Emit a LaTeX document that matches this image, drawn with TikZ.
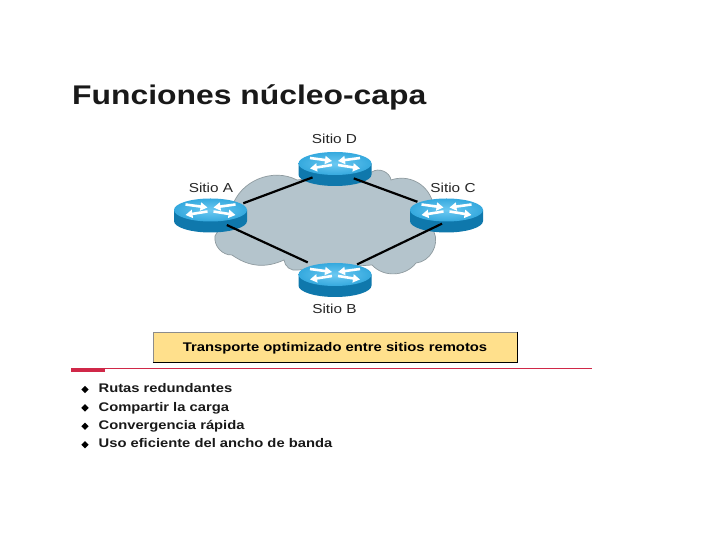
\documentclass[tikz,border=0pt]{standalone}
\usepackage{fontspec}
\setmainfont{Liberation Sans}[FakeStretch=1.18]
\usetikzlibrary{arrows.meta,positioning,shapes.geometric}

\definecolor{cloudfill}{HTML}{B4C4CC}
\definecolor{clouddraw}{HTML}{8E9A9F}
\definecolor{routerside}{HTML}{0F78AC}
\definecolor{routertop}{HTML}{35A9DE}
\definecolor{routerglow}{HTML}{6CC9F2}
\definecolor{notefill}{HTML}{FFE08C}
\definecolor{rulered}{HTML}{D02848}

\tikzset{
  routerbox/.style={rectangle, minimum width=73pt, minimum height=34pt, inner sep=0pt},
  sitelabel/.style={inner sep=0pt, font=\fontsize{13}{15}\selectfont, text=black!85},
  link/.style={line width=2.2pt, black},
  flow/.style={-{Triangle[length=7pt, width=8pt]}, line width=2.6pt, white},
  pics/routericon/.style={code={
    \fill[routerside] (-36.5,5.5) -- (-36.5,-5.5) arc[start angle=180, end angle=360, x radius=36.5, y radius=11.5] -- (36.5,5.5) -- cycle;
    \shade[inner color=routerglow, outer color=routertop] (0,5.5) ellipse[x radius=36.5, y radius=11.5];
    \draw[flow] (-25,11) -- (-3,8);
    \draw[flow] (25,11) -- (3,8);
    \draw[flow] (-3,4) -- (-25,0.5);
    \draw[flow] (3,4) -- (25,0.5);
  }}
}

\begin{document}
\begin{tikzpicture}[
  x=1pt, y=1pt,
  title/.style={anchor=base west, inner sep=0pt, font=\fontsize{27}{30}\selectfont\bfseries, text=black!90},
  notebox/.style={rectangle, fill=notefill, draw=black!45, line width=0.8pt, minimum width=364pt, minimum height=30pt, inner sep=0pt, text height=11pt, text depth=2pt, font=\fontsize{12.55}{15}\selectfont\bfseries},
  bulletmark/.style={diamond, fill=black, inner sep=0pt, minimum width=7.5pt, minimum height=7.5pt},
  bullettext/.style={right=9.5pt of #1, inner sep=0pt, text height=9.5pt, text depth=3pt, font=\fontsize{12.5}{15}\selectfont\bfseries, text=black!90}
]
\useasboundingbox (0,0) rectangle (720,540);
\fill[white] (0,0) rectangle (720,540);

\node[title] (heading) at (72,435.5) {Funciones núcleo-capa};

% cloud behind the routers
\draw[fill=cloudfill, draw=clouddraw, line width=0.7pt]
  (232,333) to[bend left=50] (297,360) -- (372,368) to[bend left=60] (391,360)
  to[bend left=45] (432,340) -- (434,308) to[bend left=55] (416,277)
  to[bend left=50] (372,275) -- (298,270) to[bend left=50] (284,280)
  to[bend left=30] (232,285) to[bend left=50] (215,304) -- cycle;

\node[routerbox] (siteD) at (335,371) {};
\node[routerbox] (siteA) at (210.5,324.5) {};
\node[routerbox] (siteC) at (446.5,324.5) {};
\node[routerbox] (siteB) at (335,260) {};
\pic at (siteD) {routericon};
\pic at (siteA) {routericon};
\pic at (siteC) {routericon};
\pic at (siteB) {routericon};

\node[sitelabel] (labelD) at (334.5,401) {Sitio D};
\node[sitelabel] (labelA) at (211,352) {Sitio A};
\node[sitelabel] (labelC) at (453,352) {Sitio C};
\node[sitelabel] (labelB) at (334.5,231) {Sitio B};

\draw[link, shorten <=35pt, shorten >=24pt] (siteA.center) -- (siteD.center);
\draw[link, shorten <=18pt, shorten >=30pt] ([yshift=-2pt]siteA.center) -- ([yshift=5pt]siteB.center);
\draw[link, shorten <=5pt, shorten >=24.5pt] ([yshift=-6pt]siteC.center) -- ([yshift=5pt]siteB.center);
\draw[link, shorten <=20pt, shorten >=31pt] ([yshift=-2.5pt]siteD.center) -- ([yshift=3pt]siteC.center);

\node[notebox] (note) at (335,193) {Transporte optimizado entre sitios remotos};
\draw[black, line width=1pt] (note.north east) -- (note.south east) -- (note.south west);

% red rule under the note
\fill[rulered] (71,172.4) rectangle (592,171.2);
\fill[rulered] (71,172.4) rectangle (105,168);

\node[bulletmark] (markA) at (85,150.5) {};
\node[bulletmark, below=10.5pt of markA] (markB) {};
\node[bulletmark, below=10.5pt of markB] (markC) {};
\node[bulletmark, below=10.5pt of markC] (markD) {};
\node[bullettext=markA] (itemA) {Rutas redundantes};
\node[bullettext=markB] (itemB) {Compartir la carga};
\node[bullettext=markC] (itemC) {Convergencia rápida};
\node[bullettext=markD] (itemD) {Uso eficiente del ancho de banda};
\end{tikzpicture}
\end{document}
